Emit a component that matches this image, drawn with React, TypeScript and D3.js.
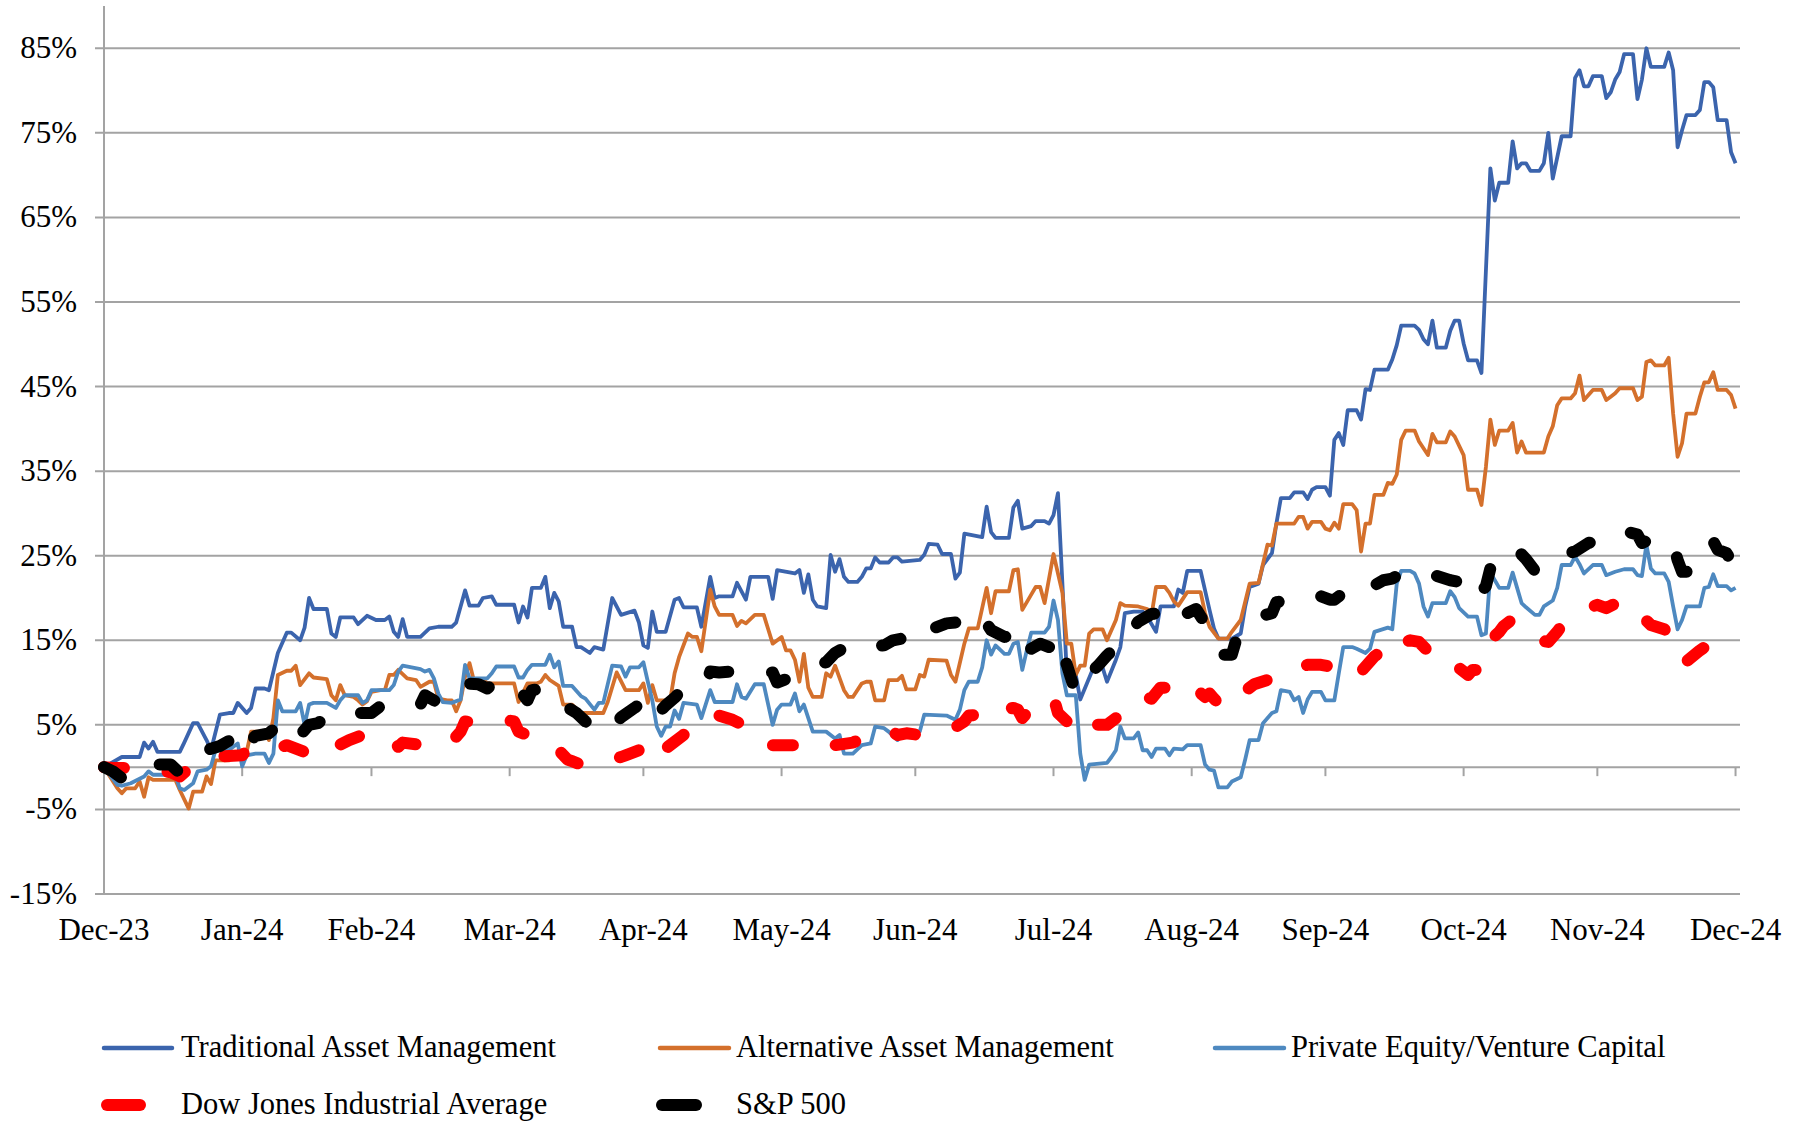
import * as React from "react";
import * as d3 from "d3";

// x = days since 2023-12-31, y = cumulative return in %
const traditional: [number, number][] = [
  [0, 0], [4, 1.2], [8, 1.2], [9, 2.9], [10, 2.2], [11, 3.0], [12, 1.8], [17, 1.8], [18, 2.9], [20, 5.2],
  [21, 5.2], [23, 3.2], [24, 2.0], [26, 6.2], [28, 6.4], [29, 6.4], [30, 7.6], [32, 6.4], [33, 7.0], [34, 9.3],
  [36, 9.3], [37, 9.1], [39, 13.5], [41, 15.9], [42, 15.9], [44, 15.0], [45, 16.5], [46, 20.0], [47, 18.7], [50, 18.7],
  [51, 15.8], [52, 15.4], [53, 17.7], [56, 17.7], [57, 16.9], [59, 17.9], [61, 17.4], [63, 17.4], [64, 17.8], [65, 16.0],
  [66, 15.4], [67, 17.5], [68, 15.4], [71, 15.4], [73, 16.4], [75, 16.6], [78, 16.6], [79, 17.1], [81, 20.9], [82, 19.1],
  [84, 19.1], [85, 20.0], [87, 20.2], [88, 19.2], [92, 19.2], [93, 17.1], [94, 19.0], [95, 17.7], [96, 21.2], [98, 21.2],
  [99, 22.5], [100, 18.8], [101, 20.6], [102, 19.6], [103, 16.6], [105, 16.6], [106, 14.2], [107, 14.2], [109, 13.5], [110, 14.2],
  [112, 13.9], [114, 20.0], [116, 18.0], [119, 18.5], [120, 17.1], [121, 14.4], [122, 14.1], [123, 18.4], [124, 16.0], [126, 16.0],
  [128, 19.8], [129, 20.0], [130, 18.9], [133, 18.9], [134, 16.6], [136, 22.5], [137, 20.0], [138, 20.2], [141, 20.2], [142, 21.8],
  [144, 19.8], [145, 22.5], [149, 22.5], [150, 19.9], [151, 23.3], [155, 22.9], [156, 23.3], [157, 20.6], [158, 22.8], [159, 19.8],
  [160, 19.0], [162, 18.8], [163, 25.1], [164, 23.1], [165, 24.6], [166, 22.5], [167, 21.9], [169, 21.9], [170, 22.5], [171, 23.5],
  [172, 23.5], [173, 24.8], [174, 24.2], [176, 24.2], [177, 24.8], [178, 24.8], [179, 24.3], [183, 24.5], [184, 25.1], [185, 26.4],
  [187, 26.3], [188, 25.2], [190, 25.2], [191, 22.3], [192, 23.0], [193, 27.6], [197, 27.2], [198, 30.8], [199, 27.8], [200, 27.1],
  [203, 27.1], [204, 30.7], [205, 31.5], [206, 28.2], [208, 28.5], [209, 29.1], [211, 29.1], [212, 28.8], [213, 29.8], [214, 32.4],
  [216, 10.9], [218, 10.9], [219, 8.0], [222, 11.8], [224, 11.8], [225, 10.1], [227, 12.7], [228, 14.2], [229, 18.2], [231, 18.4],
  [233, 18.4], [234, 17.8], [236, 16.0], [237, 19.0], [240, 19.0], [241, 21.0], [242, 20.6], [243, 23.2], [246, 23.2], [248, 18.6],
  [249, 16.4], [250, 15.2], [253, 15.2], [255, 15.8], [256, 19.0], [257, 21.3], [259, 21.7], [260, 23.9], [262, 25.3], [263, 28.8],
  [264, 31.8], [266, 31.8], [267, 32.5], [269, 32.5], [270, 31.7], [271, 32.8], [272, 33.1], [274, 33.1], [275, 32.1], [276, 38.7],
  [277, 39.5], [278, 38.1], [279, 42.2], [281, 42.2], [282, 41.1], [283, 44.7], [284, 44.6], [285, 47.0], [288, 47.0], [289, 48.2],
  [290, 49.9], [291, 52.2], [294, 52.2], [295, 51.7], [296, 50.6], [297, 50.0], [298, 52.8], [299, 49.6], [301, 49.6], [302, 51.6],
  [303, 52.8], [304, 52.8], [305, 50.1], [306, 48.1], [308, 48.1], [309, 46.6], [311, 70.8], [312, 67.0], [313, 69.1], [315, 69.1],
  [316, 74.0], [317, 70.8], [318, 71.4], [319, 71.4], [320, 70.5], [322, 70.5], [323, 71.4], [324, 75.0], [325, 69.6], [327, 74.6],
  [329, 74.6], [330, 81.5], [331, 82.4], [332, 80.5], [333, 80.5], [334, 81.7], [336, 81.7], [337, 79.1], [338, 79.8], [339, 81.3],
  [340, 82.2], [341, 84.3], [343, 84.3], [344, 79.0], [345, 81.3], [346, 85.0], [347, 82.8], [350, 82.8], [351, 84.5], [352, 82.4],
  [353, 73.3], [354, 75.3], [355, 77.1], [357, 77.1], [358, 77.7], [359, 81.0], [360, 81.0], [361, 80.4], [362, 76.5], [364, 76.5],
  [365, 72.7], [366, 71.4],
];

const alternative: [number, number][] = [
  [0, 0], [3, -2.5], [4, -3.1], [5, -2.5], [7, -2.5], [8, -1.7], [9, -3.5], [10, -1.2], [11, -1.5], [16, -1.5],
  [17, -2.7], [19, -4.9], [20, -2.9], [22, -2.9], [23, -1.1], [24, -2.0], [25, 0.8], [28, 0.8], [29, 1.4], [30, 1.6],
  [32, 1.8], [33, 4.2], [36, 4.2], [37, 3.2], [38, 5.8], [39, 10.9], [41, 11.4], [42, 11.4], [43, 12.0], [44, 9.7],
  [46, 11.1], [47, 10.6], [50, 10.4], [51, 8.5], [52, 7.9], [53, 9.7], [54, 8.5], [56, 8.3], [57, 7.9], [58, 7.4],
  [59, 7.8], [60, 8.9], [62, 9.1], [63, 9.1], [64, 10.9], [65, 10.9], [66, 11.5], [68, 10.5], [70, 10.3], [71, 9.5],
  [73, 10.1], [74, 10.1], [75, 8.1], [77, 7.9], [78, 7.9], [79, 6.6], [80, 7.9], [81, 10.7], [82, 12.3], [83, 10.2],
  [84, 10.3], [85, 10.4], [86, 9.9], [92, 9.9], [93, 7.7], [95, 9.9], [97, 9.9], [98, 10.1], [99, 10.9], [100, 10.3],
  [102, 9.6], [103, 7.4], [105, 7.4], [107, 6.4], [109, 6.4], [112, 6.4], [113, 7.7], [115, 11.2], [117, 9.1], [120, 9.1],
  [121, 9.9], [122, 7.6], [123, 9.7], [124, 7.9], [127, 7.9], [128, 11.1], [129, 13.0], [131, 15.8], [132, 15.4], [133, 15.4],
  [134, 13.7], [136, 21.0], [137, 19.0], [138, 18.0], [141, 18.0], [142, 16.7], [143, 17.3], [144, 17.0], [146, 18.0], [148, 18.0],
  [149, 16.3], [150, 14.6], [152, 15.4], [153, 13.8], [154, 13.8], [155, 12.7], [156, 10.1], [157, 13.4], [158, 9.4], [159, 8.3],
  [161, 8.3], [162, 11.1], [163, 10.7], [164, 12.0], [166, 9.1], [167, 8.3], [168, 8.3], [170, 9.9], [171, 10.1], [172, 10.1],
  [173, 7.9], [175, 7.9], [176, 10.3], [178, 10.3], [179, 10.8], [180, 9.2], [182, 9.2], [183, 10.9], [184, 10.7], [185, 12.7],
  [189, 12.6], [190, 10.9], [191, 10.1], [193, 14.6], [194, 16.4], [196, 16.4], [198, 21.2], [199, 18.2], [200, 20.8], [203, 20.8],
  [204, 23.3], [205, 23.4], [206, 18.6], [208, 20.4], [209, 21.3], [210, 21.3], [211, 19.4], [213, 25.2], [215, 20.6], [216, 14.6],
  [217, 14.6], [218, 10.9], [219, 12.0], [220, 12.0], [221, 15.8], [222, 16.3], [224, 16.3], [225, 15.0], [227, 17.4], [228, 19.4],
  [229, 19.1], [232, 19.0], [234, 18.7], [235, 18.0], [236, 21.3], [238, 21.3], [239, 20.6], [240, 19.6], [241, 19.1], [243, 20.7],
  [246, 20.7], [247, 18.2], [248, 16.6], [250, 15.2], [252, 15.2], [253, 16.0], [255, 17.4], [257, 21.7], [259, 21.8], [261, 26.3],
  [262, 26.2], [263, 28.8], [267, 28.8], [268, 29.6], [269, 29.6], [270, 28.2], [271, 29.0], [273, 29.0], [274, 28.2], [275, 28.0],
  [276, 28.9], [277, 28.2], [278, 31.1], [280, 31.1], [281, 30.4], [282, 25.5], [283, 28.8], [284, 28.8], [285, 32.2], [287, 32.2],
  [288, 33.6], [289, 33.5], [290, 34.6], [291, 38.7], [292, 39.8], [294, 39.8], [295, 38.5], [297, 36.9], [298, 39.4], [299, 38.4],
  [301, 38.4], [302, 39.7], [303, 39.1], [305, 36.9], [306, 32.8], [308, 32.8], [309, 31.0], [310, 35.5], [311, 41.1], [312, 38.1],
  [313, 39.8], [315, 39.8], [316, 40.7], [317, 37.2], [318, 38.5], [319, 37.2], [323, 37.2], [324, 39.1], [325, 40.3], [326, 42.8],
  [327, 43.6], [329, 43.6], [330, 44.2], [331, 46.3], [332, 43.4], [334, 44.6], [336, 44.6], [337, 43.4], [338, 43.8], [339, 44.2],
  [340, 44.8], [343, 44.8], [344, 43.4], [345, 43.8], [346, 47.9], [347, 48.1], [348, 47.5], [350, 47.5], [351, 48.4], [352, 41.8],
  [353, 36.7], [354, 38.3], [355, 41.8], [357, 41.8], [358, 43.8], [359, 45.5], [360, 45.5], [361, 46.7], [362, 44.6], [364, 44.6],
  [365, 44.0], [366, 42.4],
];

const privateEquity: [number, number][] = [
  [0, 0], [3, -2.1], [4, -2.2], [6, -1.9], [9, -1.1], [10, -0.5], [11, -0.9], [16, -0.9], [17, -2.5], [18, -2.7],
  [20, -1.9], [21, -0.5], [23, -0.3], [24, 0.1], [25, 2.0], [28, 2.0], [29, 2.4], [30, 2.8], [31, 0.1], [32, 1.4],
  [34, 1.6], [36, 1.6], [37, 0.5], [38, 1.6], [39, 7.9], [40, 6.6], [43, 6.6], [44, 7.6], [45, 5.0], [46, 7.4],
  [47, 7.6], [50, 7.6], [52, 7.0], [53, 7.9], [54, 8.5], [57, 8.5], [58, 7.6], [59, 7.9], [60, 9.1], [64, 9.1],
  [65, 9.7], [66, 11.3], [67, 12.0], [71, 11.6], [72, 11.3], [73, 11.5], [74, 10.5], [75, 8.7], [76, 7.7], [78, 7.6],
  [80, 8.0], [81, 12.1], [82, 10.5], [86, 10.5], [87, 11.1], [88, 11.9], [92, 11.9], [93, 10.6], [94, 10.6], [95, 11.5],
  [96, 12.1], [99, 12.1], [100, 13.3], [101, 11.8], [102, 12.5], [103, 9.6], [105, 9.6], [107, 8.4], [108, 8.1], [110, 6.8],
  [111, 7.6], [112, 7.6], [114, 12.0], [116, 11.9], [117, 10.7], [118, 11.8], [120, 11.8], [121, 12.4], [122, 10.1], [123, 7.9],
  [124, 4.8], [125, 3.7], [126, 4.8], [127, 4.8], [128, 6.7], [129, 5.7], [130, 7.6], [133, 7.4], [134, 5.8], [136, 9.1],
  [137, 7.7], [141, 7.7], [142, 9.8], [143, 8.3], [144, 8.1], [146, 9.8], [148, 9.8], [149, 7.4], [150, 5.0], [151, 6.8],
  [152, 7.4], [154, 7.4], [155, 8.7], [156, 6.6], [157, 7.4], [159, 4.2], [162, 4.2], [164, 3.4], [165, 3.8], [166, 1.6],
  [168, 1.6], [170, 2.6], [172, 2.8], [173, 4.8], [175, 4.6], [176, 4.2], [178, 3.2], [180, 4.2], [183, 4.2], [184, 6.2],
  [189, 6.1], [191, 5.6], [192, 6.8], [193, 9.1], [194, 10.1], [196, 10.1], [197, 11.8], [198, 15.0], [199, 13.3], [200, 14.4],
  [202, 13.4], [203, 13.4], [204, 14.6], [205, 14.8], [206, 11.5], [207, 13.8], [208, 15.9], [211, 15.9], [212, 16.6], [213, 19.7],
  [214, 17.4], [215, 11.1], [216, 8.5], [218, 8.5], [219, 1.6], [220, -1.5], [221, 0.3], [225, 0.5], [226, 1.2], [227, 2.0],
  [228, 4.8], [229, 3.4], [231, 3.4], [232, 4.1], [233, 2.0], [234, 2.0], [235, 1.2], [236, 2.2], [238, 2.2], [239, 1.4],
  [240, 2.2], [242, 2.1], [243, 2.6], [246, 2.6], [247, 0.3], [248, -0.3], [249, -0.4], [250, -2.4], [252, -2.4], [253, -1.7],
  [255, -1.2], [256, 0.9], [257, 3.2], [259, 3.2], [260, 5.2], [262, 6.4], [263, 6.6], [264, 9.1], [266, 8.9], [267, 7.9],
  [268, 8.3], [269, 6.4], [270, 8.0], [271, 8.9], [273, 8.9], [274, 7.9], [276, 7.9], [277, 11.1], [278, 14.2], [280, 14.2],
  [281, 14.0], [283, 13.5], [284, 14.0], [285, 16.0], [288, 16.5], [289, 16.3], [290, 21.7], [291, 23.2], [293, 23.2], [294, 22.9],
  [295, 21.7], [296, 19.0], [297, 17.8], [298, 19.4], [301, 19.4], [302, 20.8], [303, 20.1], [304, 18.8], [306, 17.8], [308, 17.8],
  [309, 15.6], [310, 15.8], [311, 23.0], [312, 22.1], [313, 21.2], [315, 21.2], [316, 23.0], [317, 21.2], [318, 19.4], [319, 18.9],
  [321, 18.0], [322, 18.0], [323, 19.0], [325, 19.7], [326, 21.2], [327, 23.9], [329, 23.9], [330, 24.9], [331, 24.0], [332, 22.9],
  [334, 23.9], [336, 23.9], [337, 22.7], [339, 23.1], [341, 23.4], [343, 23.4], [344, 22.7], [345, 22.6], [346, 26.3], [347, 23.5],
  [348, 22.9], [350, 22.9], [351, 21.9], [352, 19.0], [353, 16.3], [354, 17.4], [355, 19.0], [358, 19.0], [359, 21.2], [360, 21.3],
  [361, 22.8], [362, 21.4], [364, 21.4], [365, 20.9], [366, 21.2],
];

const dowJones: [number, number][] = [
  [0, 0], [2, -0.1], [5, -0.1], [8, 0], [12, -0.4], [15, -0.6], [17, -1.1], [20, 0.3], [21, 0.7], [23, 0.9],
  [27, 1.3], [31, 1.4], [32, 2.0], [34, 2.4], [36, 2.2], [38, 2.0], [41, 2.6], [45, 1.8], [46, 2.8], [48, 2.4],
  [52, 2.4], [55, 3.2], [58, 3.8], [60, 3.7], [63, 3.8], [65, 3.3], [66, 2.4], [67, 2.9], [70, 2.7], [74, 2.6],
  [77, 2.6], [78, 3.0], [80, 4.2], [81, 5.4], [85, 5.2], [88, 5.6], [90, 5.6], [92, 5.4], [93, 4.2], [95, 3.8],
  [96, 3.0], [99, 2.6], [102, 2.0], [104, 0.9], [105, 0.7], [107, 0.3], [109, 0.1], [112, 0.6], [116, 1.2], [117, 1.4],
  [120, 2.0], [121, 1.0], [122, 0.3], [126, 2.2], [130, 3.8], [131, 4.8], [134, 4.8], [136, 5.3], [138, 6.1], [141, 5.6],
  [144, 4.8], [145, 4.0], [148, 3.8], [150, 2.6], [153, 2.6], [156, 2.6], [158, 3.0], [162, 3.0], [164, 2.6], [168, 2.9],
  [170, 3.4], [173, 4.0], [176, 4.5], [178, 3.8], [180, 4.0], [183, 3.8], [186, 4.2], [190, 4.4], [193, 5.4], [194, 6.1],
  [196, 6.2], [198, 7.0], [201, 7.4], [202, 6.8], [204, 7.0], [205, 6.8], [206, 5.8], [209, 7.6], [211, 7.7], [213, 8.3],
  [214, 6.4], [216, 5.4], [217, 5.2], [219, 3.6], [221, 4.2], [222, 5.0], [225, 5.0], [227, 5.8], [230, 7.9], [233, 8.4],
  [235, 8.1], [237, 9.4], [239, 9.4], [241, 9.6], [243, 10.3], [245, 9.2], [247, 8.3], [248, 8.7], [249, 8.1], [251, 7.0],
  [252, 7.0], [253, 7.7], [256, 9.0], [258, 9.8], [261, 10.3], [263, 11.1], [265, 11.6], [267, 11.7], [270, 12.1], [273, 12.1],
  [275, 11.9], [277, 11.9], [279, 12.4], [281, 12.4], [282, 11.3], [285, 13.1], [288, 14.2], [290, 13.4], [291, 14.6], [293, 15.0],
  [295, 14.8], [298, 13.2], [300, 12.3], [302, 12.5], [303, 12.5], [304, 11.7], [306, 10.9], [307, 11.5], [308, 11.5], [310, 12.0],
  [311, 15.0], [313, 16.0], [314, 16.7], [316, 17.5], [319, 16.0], [322, 15.0], [324, 14.8], [326, 16.0], [328, 17.5], [329, 17.6],
  [333, 18.8], [335, 19.2], [337, 18.8], [340, 19.6], [341, 18.6], [344, 18.4], [347, 16.8], [350, 16.3], [352, 15.6], [353, 13.5],
  [354, 12.5], [355, 12.5], [358, 13.8], [360, 14.5], [362, 14.2], [364, 14.2], [365, 13.1], [366, 12.9],
];

const sp500: [number, number][] = [
  [0, 0], [2, -0.5], [4, -1.3], [5, -1.5], [7, -1.5], [10, -0.6], [12, 0.3], [15, 0.3], [17, -0.7], [18, -0.2],
  [20, 1.4], [23, 2.0], [26, 2.5], [29, 3.4], [32, 1.6], [33, 3.2], [34, 3.7], [37, 4.0], [40, 5.4], [41, 5.4],
  [43, 5.1], [44, 3.8], [46, 5.0], [48, 5.2], [50, 6.0], [53, 6.2], [55, 6.6], [57, 6.4], [60, 6.4], [62, 7.2],
  [64, 7.6], [67, 7.7], [69, 7.4], [71, 7.4], [72, 8.5], [75, 7.6], [77, 7.8], [80, 9.3], [81, 9.9], [84, 9.8],
  [86, 9.3], [88, 10.2], [92, 10.0], [95, 7.9], [96, 9.1], [99, 9.3], [101, 8.9], [103, 7.4], [106, 6.4], [108, 5.4],
  [110, 4.8], [111, 4.2], [113, 4.2], [116, 5.9], [119, 7.0], [120, 7.4], [122, 5.8], [123, 5.2], [124, 6.2], [126, 7.3],
  [128, 8.2], [130, 9.3], [133, 9.6], [135, 9.7], [136, 11.3], [138, 11.2], [141, 11.3], [143, 11.4], [145, 11.2], [147, 11.3],
  [150, 11.2], [151, 10.0], [154, 10.6], [157, 11.5], [160, 12.1], [162, 12.4], [164, 13.5], [166, 14.1], [167, 14.0], [170, 14.7],
  [173, 14.3], [175, 14.4], [177, 15.0], [179, 15.2], [181, 14.6], [183, 14.6], [186, 16.4], [189, 17.0], [191, 17.1], [192, 18.0],
  [193, 17.7], [197, 17.8], [199, 16.2], [202, 15.4], [203, 15.5], [204, 16.6], [205, 16.4], [206, 14.8], [208, 14.0], [210, 14.6],
  [212, 14.2], [213, 15.6], [214, 14.2], [215, 13.5], [216, 12.1], [218, 8.7], [220, 10.1], [221, 11.0], [223, 12.0], [225, 13.2],
  [227, 14.2], [228, 15.8], [230, 16.5], [231, 16.5], [232, 17.2], [235, 18.1], [238, 18.3], [240, 18.0], [241, 17.5], [242, 17.0],
  [243, 18.2], [245, 18.7], [247, 17.0], [249, 15.5], [250, 14.6], [251, 13.3], [253, 13.3], [254, 15.1], [256, 16.8], [259, 17.8],
  [262, 18.2], [263, 19.5], [265, 19.7], [267, 19.6], [270, 20.0], [272, 20.4], [275, 19.8], [276, 19.8], [278, 20.6], [279, 20.6],
  [281, 20.0], [284, 21.2], [287, 22.1], [289, 22.3], [291, 22.9], [293, 23.0], [296, 22.4], [299, 22.6], [302, 22.1], [304, 21.9],
  [305, 20.8], [306, 19.8], [308, 20.1], [310, 21.4], [311, 23.5], [312, 24.9], [314, 25.7], [317, 25.7], [319, 24.6], [321, 23.2],
  [323, 23.6], [325, 24.3], [327, 25.1], [330, 25.5], [333, 26.5], [335, 26.8], [338, 27.3], [340, 27.1], [342, 27.8], [344, 27.5],
  [345, 26.5], [347, 27.0], [350, 26.9], [352, 26.5], [353, 24.5], [354, 23.1], [355, 23.1], [357, 24.3], [359, 26.3], [361, 26.7],
  [362, 25.7], [364, 25.3], [366, 23.5],
];

const monthEnds = [
  "2023-12-31", "2024-01-31", "2024-02-29", "2024-03-31", "2024-04-30", "2024-05-31", "2024-06-30",
  "2024-07-31", "2024-08-31", "2024-09-30", "2024-10-31", "2024-11-30", "2024-12-31",
];
const monthLabels = [
  "Dec-23", "Jan-24", "Feb-24", "Mar-24", "Apr-24", "May-24", "Jun-24",
  "Jul-24", "Aug-24", "Sep-24", "Oct-24", "Nov-24", "Dec-24",
];
const yTicks = [85, 75, 65, 55, 45, 35, 25, 15, 5, -5, -15];

const seriesNames = [
  "Traditional Asset Management",
  "Alternative Asset Management",
  "Private Equity/Venture Capital",
  "Dow Jones Industrial Average",
  "S&P 500",
];
const seriesColors = ["#3b64ad", "#d4702c", "#4e89c0", "#ff0000", "#000000"];

const W = 1806;
const H = 1122;
const FONT = "'Liberation Serif', 'Times New Roman', serif";
const GRID = "#a3a3a3";

export default function App() {
  const start = new Date(2023, 11, 31);
  const parse = d3.timeParse("%Y-%m-%d");

  const x = d3.scaleTime().domain([start, new Date(2025, 0, 1)]).range([104, 1740]);
  const y = d3.scaleLinear().domain([-15, 90]).range([894, 6]);

  const line = d3
    .line<[number, number]>()
    .x((d) => x(d3.timeDay.offset(start, d[0])))
    .y((d) => y(d[1]));

  const series = [
    { data: traditional, width: 3.8, dash: false },
    { data: alternative, width: 3.8, dash: false },
    { data: privateEquity, width: 3.8, dash: false },
    { data: dowJones, width: 12, dash: true },
    { data: sp500, width: 12, dash: true },
  ];

  // legend slots: [line x0, line x1, text x, row y]
  const legendPos = [
    [104, 172, 181, 1048],
    [660, 729, 736, 1048],
    [1215, 1284, 1291, 1048],
    [107, 140, 181, 1105],
    [662, 696, 736, 1105],
  ];

  const y0 = y(0);

  return (
    <div>
      <style>{"body{margin:0;background:#fff}"}</style>
      <svg width={W} height={H} style={{ display: "block", background: "#fff" }}>
        {/* gridlines + left ticks */}
        {yTicks.map((t) => (
          <g key={t}>
            <line x1={95} x2={1740} y1={y(t)} y2={y(t)} stroke={GRID} strokeWidth={2} />
            <text
              x={77}
              y={y(t) + 10}
              textAnchor="end"
              fontFamily={FONT}
              fontSize={31}
              fill="#000"
            >
              {`${t}%`}
            </text>
          </g>
        ))}

        {/* y axis */}
        <line x1={104} x2={104} y1={6} y2={894} stroke={GRID} strokeWidth={2} />

        {/* x axis at 0% */}
        <line x1={104} x2={1740} y1={y0} y2={y0} stroke={GRID} strokeWidth={2} />
        {monthEnds.map((m, i) => {
          const px = x(parse(m) as Date);
          return (
            <g key={m}>
              <line x1={px} x2={px} y1={y0} y2={y0 + 9} stroke={GRID} strokeWidth={2} />
              <text
                x={px}
                y={940}
                textAnchor="middle"
                fontFamily={FONT}
                fontSize={31}
                fill="#000"
              >
                {monthLabels[i]}
              </text>
            </g>
          );
        })}

        {/* series */}
        {series.map((s, i) => (
          <path
            key={seriesNames[i]}
            d={line(s.data) || ""}
            fill="none"
            stroke={seriesColors[i]}
            strokeWidth={s.width}
            strokeLinejoin="round"
            strokeLinecap={s.dash ? "round" : "butt"}
            strokeDasharray={s.dash ? "20 44" : undefined}
          />
        ))}

        {/* legend */}
        {series.map((s, i) => {
          const [lx0, lx1, tx, ly] = legendPos[i];
          return (
            <g key={"lg" + i}>
              <line
                x1={lx0}
                x2={lx1}
                y1={ly}
                y2={ly}
                stroke={seriesColors[i]}
                strokeWidth={s.dash ? 12 : 4.5}
                strokeLinecap="round"
              />
              <text x={tx} y={ly + 9} fontFamily={FONT} fontSize={30.5} fill="#000">
                {seriesNames[i]}
              </text>
            </g>
          );
        })}
      </svg>
    </div>
  );
}
